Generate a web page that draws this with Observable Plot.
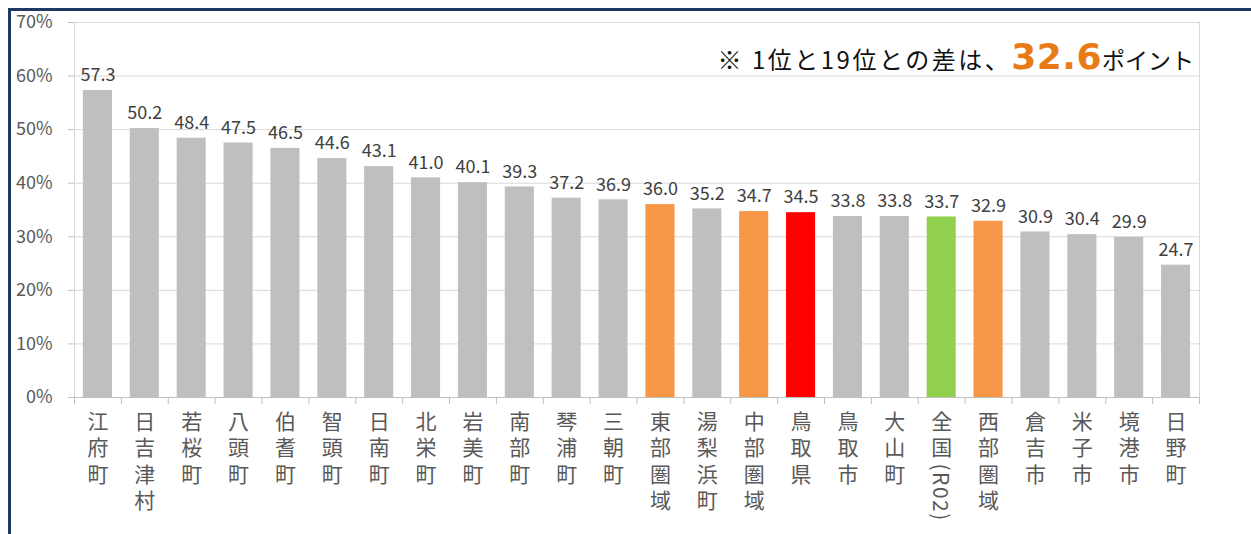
<!DOCTYPE html>
<html><head><meta charset="utf-8">
<script src="https://cdn.jsdelivr.net/npm/d3@7"></script>
<script src="https://cdn.jsdelivr.net/npm/@observablehq/plot@0.6"></script>
<style>
body{margin:0;background:#fff;}
#wrap{position:relative;width:1251px;height:534px;overflow:hidden;}
#wrap svg{position:absolute;left:0;top:0;}
#border{position:absolute;left:8px;top:8px;width:1300px;height:600px;border-left:3px solid #1F3864;border-top:3px solid #1F3864;}
</style></head><body><div id="wrap"><div id="border"></div></div>
<script>
const names = ["江府町","日吉津村","若桜町","八頭町","伯耆町","智頭町","日南町","北栄町","岩美町","南部町","琴浦町","三朝町","東部圏域","湯梨浜町","中部圏域","鳥取県","鳥取市","大山町","全国(R02)","西部圏域","倉吉市","米子市","境港市","日野町"];
const values = [57.3,50.2,48.4,47.5,46.5,44.6,43.1,41.0,40.1,39.3,37.2,36.9,36.0,35.2,34.7,34.5,33.8,33.8,33.7,32.9,30.9,30.4,29.9,24.7];
const kinds = ["town","town","town","town","town","town","town","town","town","town","town","town","region","town","region","pref","town","town","national","region","town","town","town","town"];
const yTicks = [0,10,20,30,40,50,60,70];
const noteText = "※ 1位と19位との差は、";
const noteValue = "32.6";
const noteUnit = "ポイント";

const data = names.map((n,i)=>({name:n, value:values[i], kind:kinds[i]}));
const W=1251, H=534, mL=74, mR=52, mT=22, mB=137;
const step = (W-mL-mR)/names.length;
const font = "'Noto Sans CJK JP', 'Noto Sans', sans-serif";

const plot = Plot.plot({
  width:W, height:H, marginLeft:mL, marginRight:mR, marginTop:mT, marginBottom:mB,
  style:{fontFamily:font, background:"transparent"},
  x:{domain:names, paddingInner:0.38, paddingOuter:0.19, round:false, axis:null},
  y:{domain:[0,70], axis:null},
  color:{domain:["town","region","pref","national"], range:["#BFBFBF","#F79646","#FF0000","#92D050"]},
  marks:[
    Plot.gridY(yTicks, {stroke:"#D9D9D9", strokeOpacity:1}),
    Plot.frame({stroke:"#D9D9D9"}),
    Plot.barY(data, {x:"name", y:"value", fill:"kind"}),
    Plot.axisY({ticks:yTicks, tickFormat:d=>d+"%", tickSize:6, tickPadding:16, fontSize:18, fill:"#595959", stroke:"#BFBFBF", strokeOpacity:1, label:null}),
    Plot.ruleY([0], {stroke:"#BFBFBF", insetLeft:-6}),
    Plot.axisX({ticks:names, tickSize:7, tickFormat:()=>"", dx:-step/2, stroke:"#BFBFBF", strokeOpacity:1, label:null}),
    Plot.axisX({ticks:[names[names.length-1]], tickSize:7, tickFormat:()=>"", dx:step/2, stroke:"#BFBFBF", strokeOpacity:1, label:null}),
    Plot.text(data, {x:"name", y:"value", text:d=>d.value.toFixed(1), dy:-15, fontSize:18, fill:"#404040"}),
    Plot.text(names, {x:d=>d, text:d=>d, frameAnchor:"bottom", lineAnchor:"bottom", dy:13, textAnchor:"start", fontSize:21, fill:"#595959"})
  ]
});

const textGroups = plot.querySelectorAll('g[aria-label="text"]');
const labelGroup = textGroups[textGroups.length-1];
labelGroup.querySelectorAll("text").forEach(t=>{
  t.style.writingMode = "vertical-rl";
  t.style.letterSpacing = "5.5px";
  t.removeAttribute("dy");
  const s = t.textContent;
  const m = s.match(/^([^(]*)(\(.*\))$/);
  if (m) {
    t.textContent = m[1];
    const ts = document.createElementNS("http://www.w3.org/2000/svg","tspan");
    ts.style.letterSpacing = "1.5px";
    ts.textContent = m[2];
    t.appendChild(ts);
  }
});

const note = d3.select(plot).append("text")
  .attr("x", 1194).attr("y", 69).attr("text-anchor","end")
  .attr("font-family", font).attr("fill","#111111");
note.append("tspan").attr("font-size",24).style("letter-spacing","2.5px").text(noteText);
note.append("tspan").attr("font-size",36).attr("font-weight","bold").attr("font-family","'DejaVu Sans', sans-serif").attr("fill","#E97B17").style("letter-spacing","0.5px").text(noteValue);
note.append("tspan").attr("font-size",23).text(noteUnit);

document.getElementById("wrap").appendChild(plot);
</script>
</body></html>
